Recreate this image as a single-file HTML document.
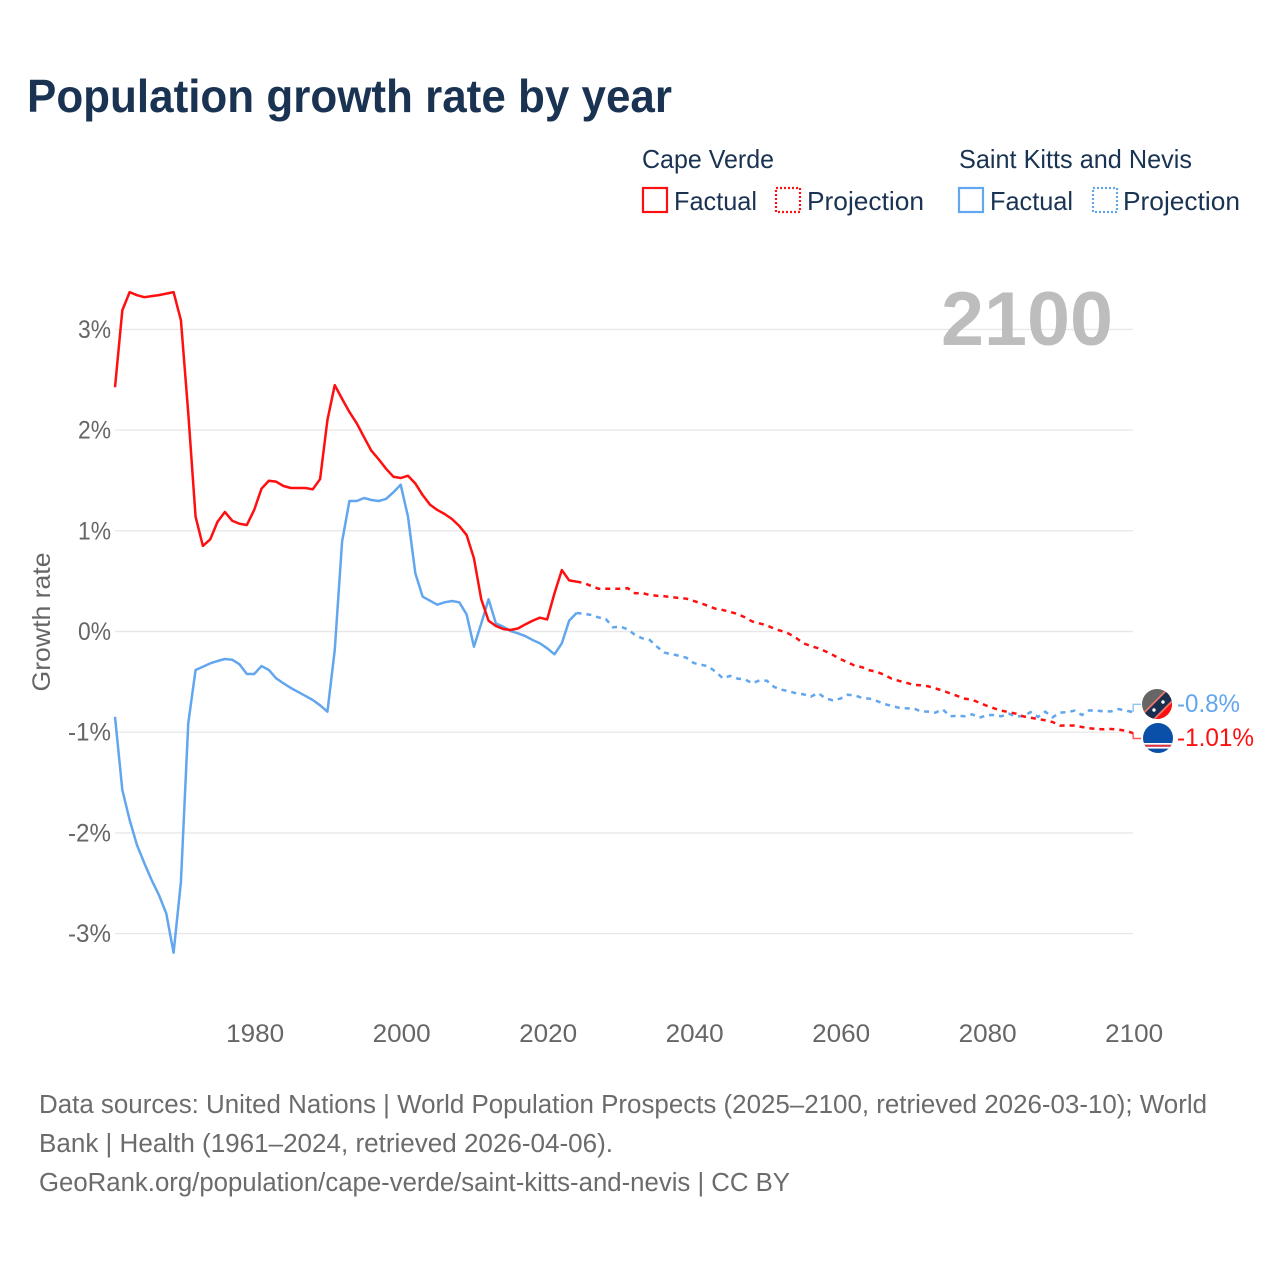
<!DOCTYPE html>
<html lang="en">
<head>
<meta charset="utf-8">
<title>Population growth rate by year</title>
<style>
html,body{margin:0;padding:0;background:#fff;}
svg{display:block;font-family:"Liberation Sans",sans-serif;}
</style>
</head>
<body>
<svg id="chart" width="1280" height="1280" viewBox="0 0 1280 1280" xmlns="http://www.w3.org/2000/svg">
  <defs>
    <clipPath id="clip-kn"><circle cx="1157" cy="704" r="15"/></clipPath>
    <clipPath id="clip-cv"><circle cx="1158" cy="738" r="15"/></clipPath>
  </defs>
  <rect x="0" y="0" width="1280" height="1280" fill="#fff"/>
  <text x="27" y="112" font-size="46" font-weight="700" fill="#1a3352" textLength="645" lengthAdjust="spacingAndGlyphs">Population growth rate by year</text>

  <g font-size="26" fill="#1a3352">
    <text x="642" y="168" textLength="132" lengthAdjust="spacingAndGlyphs">Cape Verde</text>
    <text x="959" y="168" textLength="233" lengthAdjust="spacingAndGlyphs">Saint Kitts and Nevis</text>
    <rect x="643" y="188" width="24" height="24" fill="none" stroke="#ff0f0f" stroke-width="2.2"/>
    <text x="674" y="210" textLength="83" lengthAdjust="spacingAndGlyphs">Factual</text>
    <rect x="776" y="188" width="24" height="24" fill="none" stroke="#ff0f0f" stroke-width="2.2" stroke-dasharray="2 2"/>
    <text x="807" y="210" textLength="117" lengthAdjust="spacingAndGlyphs">Projection</text>
    <rect x="959" y="188" width="24" height="24" fill="none" stroke="#62a6ee" stroke-width="2.2"/>
    <text x="990" y="210" textLength="83" lengthAdjust="spacingAndGlyphs">Factual</text>
    <rect x="1093" y="188" width="24" height="24" fill="none" stroke="#62a6ee" stroke-width="2.2" stroke-dasharray="2 2"/>
    <text x="1123" y="210" textLength="117" lengthAdjust="spacingAndGlyphs">Projection</text>
  </g>

  <g id="grid"></g>
  <text x="941" y="345" font-size="76" font-weight="700" fill="#bdbdbd" textLength="172" lengthAdjust="spacingAndGlyphs">2100</text>
  <g id="yticks"></g>
  <g id="xticks"></g>
  <text transform="translate(50,622) rotate(-90)" text-anchor="middle" font-size="25" fill="#666" textLength="139" lengthAdjust="spacingAndGlyphs">Growth rate</text>
  <g id="series"></g>

  <g clip-path="url(#clip-kn)">
    <rect x="1142" y="689" width="30" height="30" fill="#666"/>
    <polygon points="1130,744.5 1190,684.5 1190,730 1130,730" fill="#ff0f0f"/>
    <rect x="1130" y="719" width="60" height="10" fill="#ff0f0f"/>
    <polygon points="1130,725.5 1190,665.5 1190,684.5 1130,744.5" fill="#f2766c"/>
    <polygon points="1130,728 1190,668 1190,682 1130,742" fill="#1a2e4f"/>
    <circle cx="1163" cy="702" r="1.7" fill="#fff"/>
    <circle cx="1154" cy="710" r="1.7" fill="#fff"/>
  </g>
  <g clip-path="url(#clip-cv)">
    <rect x="1143" y="723" width="30" height="30" fill="#0a50a8"/>
    <rect x="1143" y="743" width="30" height="1.8" fill="#fff"/>
    <rect x="1143" y="744.8" width="30" height="2" fill="#e8303a"/>
    <rect x="1143" y="746.8" width="30" height="1.8" fill="#fff"/>
  </g>
  <text x="1177" y="712" font-size="25" fill="#62a6ee" textLength="63" lengthAdjust="spacingAndGlyphs">-0.8%</text>
  <text x="1177" y="746" font-size="25" fill="#ff0f0f" textLength="77" lengthAdjust="spacingAndGlyphs">-1.01%</text>

  <g font-size="25.5" fill="#6b6b6b">
    <text x="39" y="1113" textLength="1168" lengthAdjust="spacingAndGlyphs">Data sources: United Nations | World Population Prospects (2025–2100, retrieved 2026-03-10); World</text>
    <text x="39" y="1152" textLength="574" lengthAdjust="spacingAndGlyphs">Bank | Health (1961–2024, retrieved 2026-04-06).</text>
    <text x="39" y="1191" textLength="751" lengthAdjust="spacingAndGlyphs">GeoRank.org/population/cape-verde/saint-kitts-and-nevis | CC BY</text>
  </g>
</svg>
<script>
const firstYear = 1961;
const lastFactualYear = 2024;
const yTickValues = [3, 2, 1, 0, -1, -2, -3];
const yTickLabels = ['3%', '2%', '1%', '0%', '-1%', '-2%', '-3%'];
const xTickYears = [1980, 2000, 2020, 2040, 2060, 2080, 2100];
const capeVerdeRates = [
  2.425,3.19,3.37,3.34,3.32,3.33,3.34,3.355,3.37,3.09,
  2.17,1.14,0.85,0.915,1.09,1.187,1.10,1.07,1.058,1.207,
  1.418,1.497,1.488,1.445,1.425,1.425,1.425,1.412,1.514,2.10,
  2.447,2.31,2.18,2.067,1.93,1.795,1.71,1.617,1.537,1.524,
  1.547,1.47,1.355,1.26,1.207,1.167,1.117,1.048,0.958,0.727,
  0.32,0.107,0.055,0.025,0.015,0.03,0.07,0.107,0.137,0.12,
  0.38,0.61,0.508,0.495,
  0.482,0.452,0.425,0.425,0.425,0.425,0.43,0.38,0.382,0.362,
  0.355,0.35,0.34,0.333,0.326,0.303,0.28,0.253,0.226,0.213,
  0.194,0.174,0.14,0.10,0.08,0.06,0.028,0.005,-0.022,-0.065,
  -0.118,-0.144,-0.167,-0.197,-0.233,-0.273,-0.306,-0.34,-0.355,-0.385,
  -0.40,-0.43,-0.468,-0.49,-0.508,-0.53,-0.534,-0.544,-0.564,-0.588,
  -0.614,-0.64,-0.667,-0.677,-0.707,-0.737,-0.763,-0.786,-0.80,-0.816,
  -0.843,-0.856,-0.869,-0.882,-0.899,-0.935,-0.932,-0.935,-0.948,-0.961,
  -0.968,-0.971,-0.968,-0.975,-0.985,-1.01
];
const saintKittsRates = [
  -0.846,-1.574,-1.872,-2.12,-2.30,-2.468,-2.617,-2.80,-3.19,-2.485,
  -0.912,-0.382,-0.35,-0.316,-0.293,-0.273,-0.28,-0.326,-0.422,-0.422,
  -0.343,-0.382,-0.465,-0.515,-0.561,-0.60,-0.64,-0.68,-0.733,-0.796,
  -0.184,0.892,1.296,1.296,1.326,1.306,1.296,1.316,1.382,1.458,
  1.14,0.578,0.346,0.306,0.266,0.29,0.303,0.29,0.17,-0.151,
  0.08,0.32,0.08,0.048,0.005,-0.018,-0.045,-0.084,-0.117,-0.167,
  -0.226,-0.117,0.107,0.184,
  0.177,0.164,0.14,0.124,0.042,0.048,0.022,-0.035,-0.068,-0.084,
  -0.151,-0.21,-0.226,-0.24,-0.26,-0.313,-0.33,-0.346,-0.40,-0.465,
  -0.44,-0.468,-0.475,-0.515,-0.485,-0.489,-0.551,-0.578,-0.594,-0.614,
  -0.624,-0.647,-0.611,-0.664,-0.683,-0.667,-0.628,-0.634,-0.66,-0.667,
  -0.69,-0.72,-0.737,-0.757,-0.763,-0.763,-0.793,-0.796,-0.806,-0.773,
  -0.842,-0.836,-0.842,-0.822,-0.856,-0.832,-0.829,-0.842,-0.816,-0.842,
  -0.842,-0.80,-0.849,-0.796,-0.852,-0.806,-0.80,-0.786,-0.829,-0.783,
  -0.786,-0.793,-0.793,-0.77,-0.786,-0.80
];

const NS = 'http://www.w3.org/2000/svg';
const xScale = year => 115 + (year - firstYear) * 7.325;
const yScale = rate => 631.5 - rate * 100.7;

function make(parentId, tag, attrs, content) {
  const el = document.createElementNS(NS, tag);
  Object.keys(attrs).forEach(k => el.setAttribute(k, attrs[k]));
  if (content !== undefined) el.textContent = content;
  document.getElementById(parentId).appendChild(el);
  return el;
}

yTickValues.forEach((value, i) => {
  const line = make('grid', 'line', {x1: 115, x2: 1133, y1: yScale(value), y2: yScale(value), stroke: '#e8e8e8', 'stroke-width': 1.4});
  
  
  const label = yTickLabels[i];
  const tick = make('yticks', 'text', {x: 111, y: yScale(value) + 8.5, 'text-anchor': 'end', 'font-size': 25, fill: '#666', textLength: value < 0 ? 43 : 33, lengthAdjust: 'spacingAndGlyphs'}, label);
  
  
});

xTickYears.forEach(year => {
  const tick = make('xticks', 'text', {x: xScale(year) + 1, y: 1042, 'text-anchor': 'middle', 'font-size': 25, fill: '#666', textLength: 58, lengthAdjust: 'spacingAndGlyphs'}, String(year));
  
  
});

function pathFor(values, fromYear, toYear) {
  const parts = [];
  values.forEach((v, i) => {
    const year = firstYear + i;
    if (year >= fromYear && year <= toYear) {
      parts.push((parts.length ? 'L' : 'M') + xScale(year).toFixed(2) + ' ' + yScale(v).toFixed(2));
    }
  });
  return parts.join(' ');
}

function connectorFor(values, flagY, color) {
  const endY = yScale(values[values.length - 1]);
  const x = xScale(firstYear + values.length - 1);
  return make('series', 'path', {d: 'M' + x + ' ' + endY + ' V' + flagY + ' H' + (x + 8), fill: 'none', stroke: color, 'stroke-width': 1.4, opacity: 0.7});
}

const lastYear = firstYear + capeVerdeRates.length - 1;

const kittsFactual = make('series', 'path', {d: pathFor(saintKittsRates, firstYear, lastFactualYear), fill: 'none', stroke: '#62a6ee', 'stroke-width': 2.5, 'stroke-linejoin': 'round'});



const kittsProjection = make('series', 'path', {d: pathFor(saintKittsRates, lastFactualYear, lastYear), fill: 'none', stroke: '#62a6ee', 'stroke-width': 2.5, 'stroke-dasharray': '5 5'});



const capeFactual = make('series', 'path', {d: pathFor(capeVerdeRates, firstYear, lastFactualYear), fill: 'none', stroke: '#ff0f0f', 'stroke-width': 2.5, 'stroke-linejoin': 'round'});



const capeProjection = make('series', 'path', {d: pathFor(capeVerdeRates, lastFactualYear, lastYear), fill: 'none', stroke: '#ff0f0f', 'stroke-width': 2.5, 'stroke-dasharray': '5 5'});



const kittsConnector = connectorFor(saintKittsRates, 704.3, '#62a6ee');



const capeConnector = connectorFor(capeVerdeRates, 738.5, '#ff0f0f');


</script>
</body>
</html>
